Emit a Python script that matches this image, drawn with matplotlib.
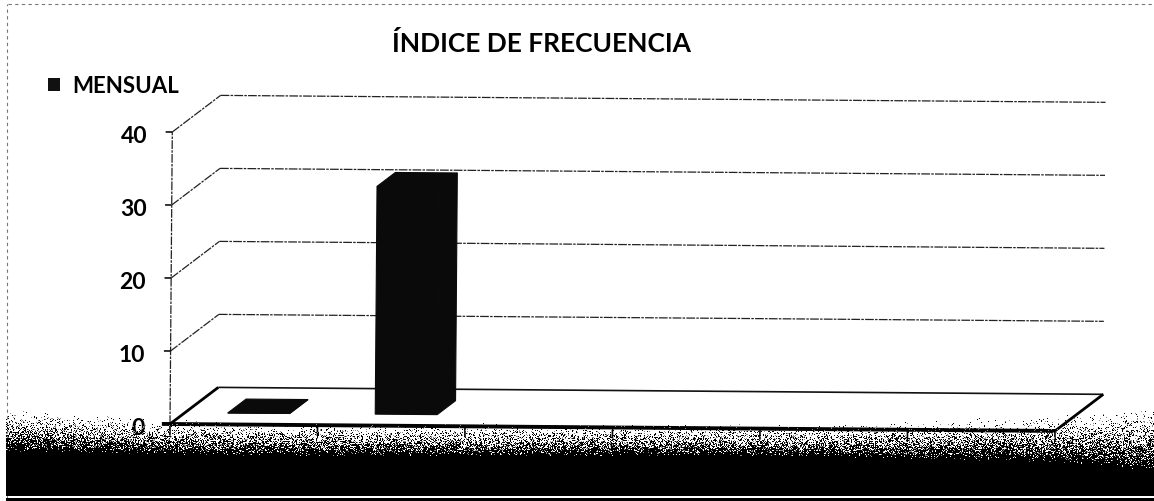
import numpy as np
import matplotlib.pyplot as plt
from matplotlib.patches import Polygon, Rectangle
from matplotlib.lines import Line2D
from matplotlib.transforms import Affine2D

W, H = 1154, 502

titulo = "ÍNDICE DE FRECUENCIA"
serie = "MENSUAL"
valores = [0, 31.2, None, None, None, None]
ticks_y = [0, 10, 20, 30, 40]

# layout of the pseudo-3d box, in pixels
X0, Y0 = 170, 425          # front-left floor corner
PX_CAT = 147.5             # width of one category
PX_UNIT = 7.3              # pixels per unit on the value axis
DX, DY = 48 / PX_CAT, 37 / PX_UNIT   # depth offset in data units
BAR_W = 0.42
BAR_D = (0.31, 0.69)

plt.rcParams['font.family'] = ['Lato', 'DejaVu Sans']

fig = plt.figure(figsize=(W / 100, H / 100), dpi=100)
fig.patch.set_facecolor('white')
ax = fig.add_axes([0, 0, 1, 1])
ax.axis('off')
ax.set_xlim(-X0 / PX_CAT, (W - X0) / PX_CAT)
ax.set_ylim((Y0 - H) / PX_UNIT, Y0 / PX_UNIT)

# the scanned chart sits slightly crooked
tilt = ax.transData + Affine2D().rotate_deg_around(X0, H - Y0, -0.45)

n = len(valores)
ymax = ticks_y[-1]


def proj(x, y, d):
    return (x + d * DX, y + d * DY)


def seg(p, q, **kw):
    ax.plot([p[0], q[0]], [p[1], q[1]], transform=tilt, solid_capstyle='butt', **kw)


grid_kw = dict(color='#222222', lw=0.9, linestyle=(0, (7, 1, 2, 1)), zorder=1)

# back wall and side wall gridlines
for v in ticks_y:
    if v == 0:
        seg(proj(0, 0, 1), proj(n, 0, 1), color='#111111', lw=1.2, zorder=1)
        continue
    seg(proj(0, v, 1), proj(n, v, 1), **grid_kw)
    seg(proj(0, v, 0), proj(0, v, 1), **grid_kw)

# value axis with tick marks and labels
seg(proj(0, 0, 0), proj(0, ymax, 0), **grid_kw)
for v in ticks_y:
    seg((-0.045, v), (0, v), color='#111111', lw=1.2, zorder=2)
    ax.text(-25 / PX_CAT, v - 10.5 / PX_UNIT, str(v), transform=tilt,
            ha='right', va='baseline', fontsize=16.5, fontweight='bold',
            color='black', zorder=3)

# floor edges
seg(proj(0, 0, 0), proj(0, 0, 1), color='black', lw=2.0, zorder=2)
seg(proj(n, 0, 0), proj(n, 0, 1), color='black', lw=2.0, zorder=2)
seg(proj(-0.055, 0, 0), proj(n, 0, 0), color='black', lw=2.8, zorder=2)
for i in range(n + 1):
    seg((i, 0), (i, -1.5), color='black', lw=1.2, zorder=2)

# bars: front, side and top faces
d0, d1 = BAR_D
for i, v in enumerate(valores):
    if v is None:
        continue
    x0, x1 = i + 0.5 - BAR_W / 2, i + 0.5 + BAR_W / 2
    faces = [
        [proj(x0, 0, d0), proj(x1, 0, d0), proj(x1, v, d0), proj(x0, v, d0)],
        [proj(x1, 0, d0), proj(x1, 0, d1), proj(x1, v, d1), proj(x1, v, d0)],
        [proj(x0, v, d0), proj(x1, v, d0), proj(x1, v, d1), proj(x0, v, d1)],
    ]
    for f in faces:
        ax.add_patch(Polygon(f, closed=True, facecolor='#0a0a0a',
                             edgecolor='#0a0a0a', lw=0.8, transform=tilt, zorder=4))

# title and legend
fig.text(542 / W, 1 - 52 / H, titulo, ha='center', va='baseline',
         fontsize=19, fontweight='bold', color='black')
fig.add_artist(Rectangle((48 / W, 1 - 92 / H), 12 / W, 13 / H,
                         transform=fig.transFigure, facecolor='#111111',
                         edgecolor='none'))
fig.text(72 / W, 1 - 93 / H, serie, ha='left', va='baseline',
         fontsize=16, fontweight='bold', color='black')

# faint dotted frame of the chart area
frame_kw = dict(color='#777777', lw=0.8, linestyle=(0, (3, 3)), transform=fig.transFigure)
fig.add_artist(Line2D([8 / W, 1], [1 - 5 / H, 1 - 5 / H], **frame_kw))
fig.add_artist(Line2D([7 / W, 7 / W], [2 / H, 1 - 5 / H], **frame_kw))

# dark grainy band along the bottom edge
rng = np.random.default_rng(11)
cols = np.arange(W)
top = np.interp(cols, [0, 150, 300, 800, 1050, 1154], [408, 418, 423, 424, 416, 404])
bot = np.interp(cols, [0, 150, 300, 800, 1050, 1154], [452, 455, 457, 457, 463, 472])
rows = np.arange(H)[:, None]
p = np.clip((rows - top[None, :]) / (bot - top)[None, :], 0, 1) ** 1.6
r = rng.random((H, W))
band = np.zeros((H, W, 4))
band[..., 3] = (r < p).astype(float)
gray = (r >= p) & (r < p + 0.12 * p * (1 - p) * 4)
band[gray, :3] = 0.55
band[gray, 3] = 1.0
band[497:499, :, 3] = 0.0
band[:, :6, 3] = 0.0
fig.figimage(band, xo=0, yo=0, origin='upper', zorder=10)

fig.savefig('out.png', dpi=100, facecolor='white')
